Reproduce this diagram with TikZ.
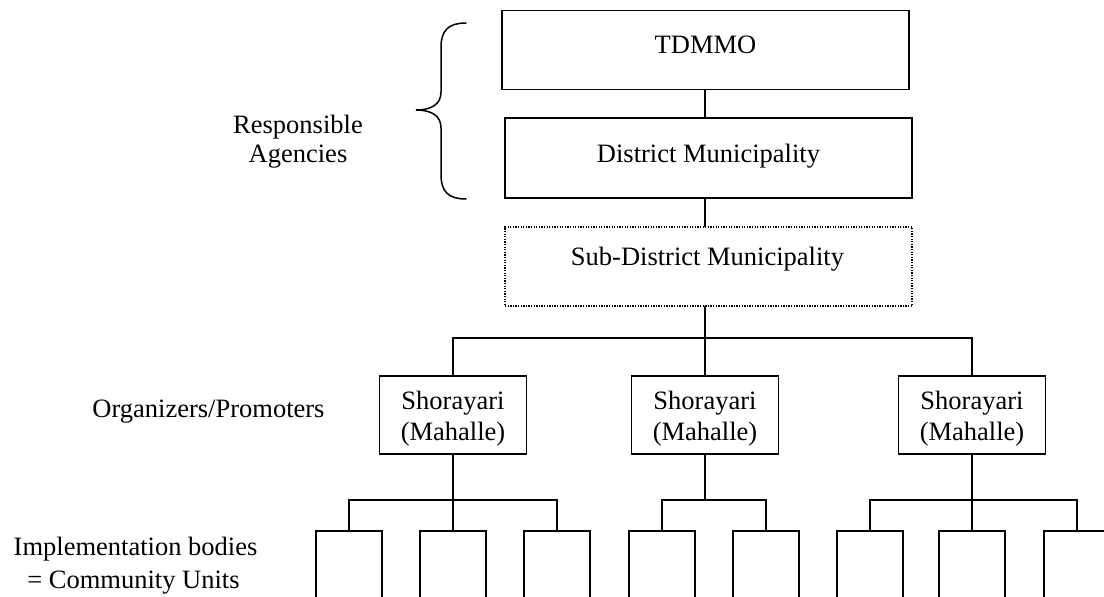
\documentclass[tikz,border=0pt]{standalone}
\usepackage{fontspec}
\setmainfont{Liberation Serif}
\begin{document}
\begin{tikzpicture}[x=1pt,y=-1pt,
  every node/.style={font=\fontsize{26.5pt}{31pt}\selectfont, inner sep=0pt, outer sep=0pt},
  frame/.style={draw, line width=1.8pt},
  wide/.style={frame, minimum width=407pt, minimum height=79pt},
  dotframe/.style={wide, line width=1.5pt, dash pattern=on 1.3pt off 1.3pt},
  local/.style={frame, minimum width=147pt, minimum height=78pt},
  cell/.style={frame, anchor=north, minimum width=66pt, minimum height=82pt},
  caption/.style={anchor=base},
  link/.style={line width=1.8pt},
  bracket/.style={line width=1.5pt, line cap=round}]

\useasboundingbox (0,0) rectangle (1104,597);
\clip (0,0) rectangle (1104,597);

% vertical spine of the hierarchy
\coordinate (spine) at (705,0);

% responsible agencies
\node[wide] (tdmmo) at (705.5,50) {};
\node[caption] (tdmmotext) at (705.5,53) {TDMMO};
\node[wide, minimum height=80pt] (district) at (708.5,158) {};
\node[caption] (districttext) at (708.5,162) {District Municipality};
\node[dotframe] (sub) at (708.5,266.5) {};
\node[caption] (subtext) at (707.5,265) {Sub-District Municipality};

% organizers / promoters
\node[local] (sh1) at (453,415) {};
\node[local] (sh2) at (705,415) {};
\node[local] (sh3) at (972,415) {};
\foreach \s/\x in {sh1/453, sh2/705, sh3/972}{
  \node[caption] (\s a) at (\x,409) {Shorayari};
  \node[caption] (\s b) at (\x,440) {(Mahalle)};
}

% community units
\foreach \c/\x in {c11/349, c12/453, c13/557, c21/662, c22/766, c31/870, c32/972, c33/1077}{
  \node[cell] (\c) at (\x,531) {};
}

% connectors
\draw[link] (tdmmo.south -| spine) -- (district.north -| spine);
\draw[link] (district.south -| spine) -- (sub.north -| spine);
\draw[link] (sub.south -| spine) -- (sh2.north);
\draw[link] (sh1.north) -- ++(0,-38) -| (sh3.north);

\draw[link] (sh1.south) -- (c12.north);
\draw[link] (c11.north) -- ++(0,-31) -| (c13.north);
\draw[link] (sh2.south) -- ++(0,46);
\draw[link] (c21.north) -- ++(0,-31) -| (c22.north);
\draw[link] (sh3.south) -- (c32.north);
\draw[link] (c31.north) -- ++(0,-31) -| (c33.north);

% brace around the responsible agencies
\coordinate (bracetop) at (466,23);
\coordinate (bracetip) at (416,110);
\coordinate (bracebot) at (466,199);
\draw[bracket] (bracetop) .. controls (449,23) and (441,30) .. (441,47)
  -- (441,92) .. controls (441,104) and (432,110) .. (bracetip)
  .. controls (432,110) and (441,116) .. (441,128)
  -- (441,175) .. controls (441,192) and (449,199) .. (bracebot);

% level captions
\node[caption] (resp1) at (298,133) {Responsible};
\node[caption] (resp2) at (298,162) {Agencies};
\node[caption] (org) at (208.5,417) {Organizers/Promoters};
\node[caption] (impl1) at (135.5,555) {Implementation bodies};
\node[caption] (impl2) at (133.5,588) {= Community Units};
\end{tikzpicture}
\end{document}
